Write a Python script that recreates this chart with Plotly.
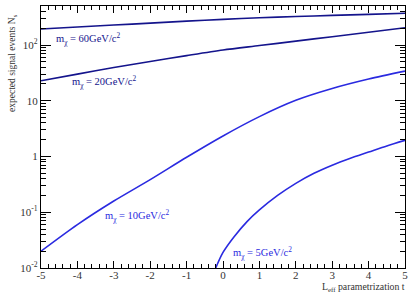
import plotly.graph_objects as go

t_grid = [-5, -4, -3, -2, -1, 0, 1, 2, 3, 4, 5]
n_60 = [194, 210, 228, 247, 268, 288, 308, 324, 340, 355, 371]
n_20 = [22.9, 30.1, 39.5, 50.7, 64.6, 81.3, 97.7, 117.5, 141, 170, 204]
n_10 = [0.020, 0.060, 0.159, 0.385, 0.97, 2.34, 5.2, 10.2, 16.6, 24.5, 34]
t_5 = [-0.2, 0, 0.3, 0.66, 1, 1.5, 2, 2.5, 3, 3.5, 4, 4.5, 5]
n_5 = [0.01, 0.019, 0.036, 0.068, 0.11, 0.2, 0.33, 0.5, 0.7, 0.93, 1.2, 1.55, 1.95]

x_ticks = [-5, -4, -3, -2, -1, 0, 1, 2, 3, 4, 5]
x_ticktext = ["-5", "-4", "-3", "-2", "-1", "0", "1", "2", "3", "4", "5"]
y_ticks = [0.01, 0.1, 1, 10, 100]
y_ticktext = ["10<sup>-2</sup>", "10<sup>-1</sup>", "1", "10", "10<sup>2</sup>"]

labels = ["m<sub>χ</sub> = 60GeV/c<sup>2</sup>", "m<sub>χ</sub> = 20GeV/c<sup>2</sup>",
          "m<sub>χ</sub> = 10GeV/c<sup>2</sup>", "m<sub>χ</sub> = 5GeV/c<sup>2</sup>"]

navy = "#14148c"
blue = "#2a2ae0"

fig = go.Figure()
fig.add_trace(go.Scatter(x=t_grid, y=n_60, mode="lines", line=dict(color=navy, width=1.6, shape="spline", smoothing=0.8)))
fig.add_trace(go.Scatter(x=t_grid, y=n_20, mode="lines", line=dict(color=navy, width=1.6, shape="spline", smoothing=0.8)))
fig.add_trace(go.Scatter(x=t_grid, y=n_10, mode="lines", line=dict(color=blue, width=1.6, shape="spline", smoothing=0.8)))
fig.add_trace(go.Scatter(x=t_5, y=n_5, mode="lines", line=dict(color=blue, width=1.6, shape="spline", smoothing=0.8)))

font = "Liberation Serif, Times New Roman, serif"

def ann(x, y, text, color):
    fig.add_annotation(x=x, y=y, xref="paper", yref="paper", text=text, showarrow=False,
                       xanchor="left", yanchor="middle", font=dict(family=font, size=10.5, color=color))

def px(xp):
    return (xp - 41) / 364

def py(yp):
    return (268 - yp) / 262

ann(px(54), py(39), labels[0], navy)
ann(px(70), py(82), labels[1], navy)
ann(px(103), py(216), labels[2], blue)
ann(px(231), py(253), labels[3], blue)

fig.add_annotation(x=1, y=py(287), xref="paper", yref="paper", text="L<sub>eff</sub> parametrization t",
                   showarrow=False, xanchor="right", yanchor="middle", xshift=2,
                   font=dict(family=font, size=9.8, color="#333"))
fig.add_annotation(x=px(13), y=py(63), xref="paper", yref="paper", text="expected signal events N<sub>s</sub>",
                   showarrow=False, textangle=-90, xanchor="center", yanchor="middle",
                   font=dict(family=font, size=9.5, color="#333"))

fig.update_layout(
    width=415, height=298,
    margin=dict(l=41, r=10, t=6, b=30),
    paper_bgcolor="white", plot_bgcolor="white",
    showlegend=False,
    font=dict(family=font, size=11, color="#333"),
)
fig.update_xaxes(range=[-5, 5], tickvals=x_ticks, ticktext=x_ticktext, ticks="inside", ticklen=7, tickwidth=1,
                 tickcolor="black", automargin=False, ticklabelstandoff=-3,
                 showline=True, linecolor="black", linewidth=1.2, mirror="allticks", showgrid=False, zeroline=False,
                 minor=dict(ticks="inside", ticklen=4, dtick=0.2, tick0=-5, tickcolor="black", showgrid=False),
                 tickfont=dict(family=font, size=11, color="#333"))
fig.update_yaxes(type="log", range=[-2, 2.7], tickvals=y_ticks, ticktext=y_ticktext,
                 ticks="inside", ticklen=10, tickwidth=1, tickcolor="black", automargin=False,
                 showline=True, linecolor="black", linewidth=1.2, mirror="allticks", showgrid=False, zeroline=False,
                 minor=dict(ticks="inside", ticklen=5, dtick="D1", tickcolor="black", showgrid=False),
                 tickfont=dict(family=font, size=11, color="#333"))

fig.write_html("out.html", config={"displayModeBar": False},
               post_script="document.body.style.margin='0';document.body.style.padding='0';")
